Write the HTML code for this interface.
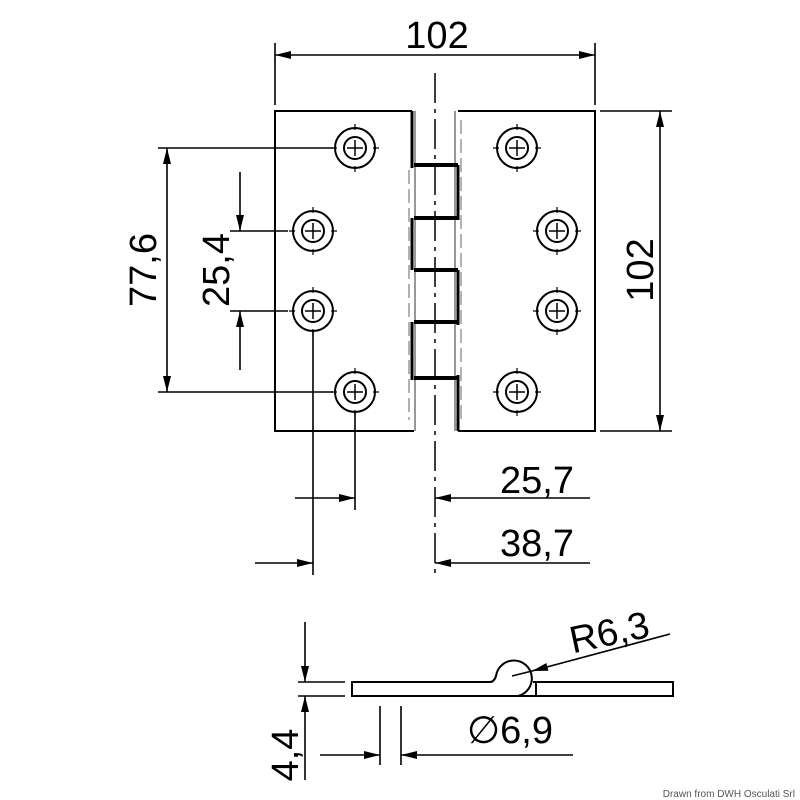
<!DOCTYPE html>
<html><head><meta charset="utf-8"><style>body{margin:0;background:#fff}svg{display:block}</style></head><body>
<svg width="800" height="800" viewBox="0 0 800 800" xmlns="http://www.w3.org/2000/svg">
<defs>
<marker id="a" viewBox="0 0 16 10" refX="16" refY="5" markerWidth="16" markerHeight="10" markerUnits="userSpaceOnUse" orient="auto-start-reverse"><path d="M0,1 L16,5 L0,9z" fill="#000"/></marker>
<g id="h" stroke="#000" fill="none" stroke-width="2"><circle r="20"/><circle r="11"/><path d="M-8,0 H8 M0,-8 V8" stroke-width="1.5"/><path d="M-24,0 h6 M18,0 h6 M0,-24 v6 M0,18 v6" stroke-width="1.2"/></g>
</defs>
<g stroke="#000" fill="none" stroke-width="2">
<path d="M412,111 H275 V431 H414" />
<path d="M458,111 H595 V431 H458" />
<path d="M415,111 V431 M455,111 V431" stroke="#777" stroke-width="1.5"/>
<path d="M412,111 V168 M412,218 V270 M412,322 V380" stroke-width="3"/>
<path d="M458,165 V220 M458,270 V325 M458,375 V431" stroke-width="3"/>
<path d="M414,165 H458 M414,218 H458 M414,270 H458 M414,322 H458 M414,378 H458" stroke-width="4"/>
<path d="M409,170 V420 M461,120 V420" stroke="#666" stroke-width="1" stroke-dasharray="14,5"/>
<path d="M435,73 V575" stroke-width="1.5" stroke-dasharray="30,6,4,6"/>
</g>
<use href="#h" x="355" y="148"/><use href="#h" x="313" y="231"/><use href="#h" x="313" y="311"/><use href="#h" x="355" y="392"/>
<use href="#h" x="517" y="148"/><use href="#h" x="557" y="231"/><use href="#h" x="557" y="311"/><use href="#h" x="517" y="392"/>
<g stroke="#000" fill="none" stroke-width="1.6">
<path d="M275,43 V105 M595,43 V105"/>
<path d="M275,55 H595" marker-start="url(#a)" marker-end="url(#a)"/>
<path d="M600,111 H672 M600,431 H672"/>
<path d="M660,111 V431" marker-start="url(#a)" marker-end="url(#a)"/>
<path d="M158,148 H333 M158,392 H333"/>
<path d="M167,148 V392" marker-start="url(#a)" marker-end="url(#a)"/>
<path d="M230,231 H288 M230,311 H288"/>
<path d="M240,172 V231" marker-end="url(#a)"/>
<path d="M240,370 V311" marker-end="url(#a)"/>
<path d="M313,331 V575 M355,412 V510"/>
<path d="M295,498 H355" marker-end="url(#a)"/>
<path d="M590,498 H435" marker-end="url(#a)"/>
<path d="M255,563 H313" marker-end="url(#a)"/>
<path d="M590,563 H435" marker-end="url(#a)"/>
</g>
<g stroke="#000" fill="none" stroke-width="2">
<path d="M352,682 H490 Q494,682 496,676 A18,18 0 1 1 518,696 H352 Z"/>
<path d="M533,682 H673 V696 H518"/>
<path d="M536,682 V696"/>
</g>
<g stroke="#000" fill="none" stroke-width="1.6">
<path d="M298,682 H345 M298,696 H345"/>
<path d="M305,622 V682" marker-end="url(#a)"/>
<path d="M305,780 V696" marker-end="url(#a)"/>
<path d="M532,671 L512,676" />
<path d="M670,634 L532,671" marker-end="url(#a)"/>
<path d="M380,706 V765 M401,706 V765"/>
<path d="M320,755 H380" marker-end="url(#a)"/>
<path d="M573,755 H401" marker-end="url(#a)"/>
</g>
<g font-family="'Liberation Sans',sans-serif" font-size="38" fill="#000" text-anchor="middle">
<text x="437" y="48">102</text>
<text transform="translate(653,270) rotate(-90)">102</text>
<text transform="translate(156,270) rotate(-90)">77,6</text>
<text transform="translate(229,270) rotate(-90)">25,4</text>
<text x="537" y="493">25,7</text>
<text x="537" y="556">38,7</text>
<text x="612" y="645" transform="rotate(-12,612,645)">R6,3</text>
<text x="510" y="743">∅6,9</text>
<text transform="translate(298,755) rotate(-90)">4,4</text>
</g>
<text x="795" y="797" font-family="'Liberation Sans',sans-serif" font-size="10" fill="#555" text-anchor="end">Drawn from DWH Osculati Srl</text>
</svg>
</body></html>
